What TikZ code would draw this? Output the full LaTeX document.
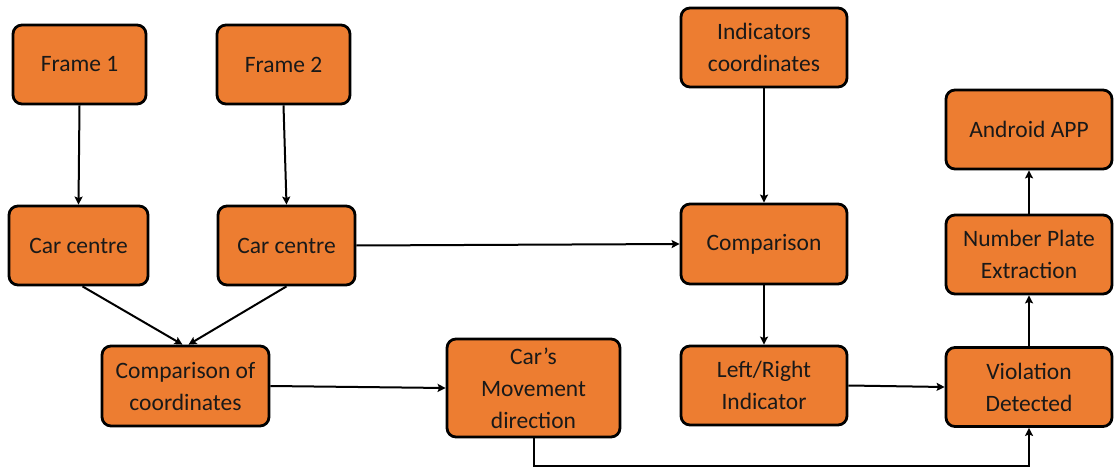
\documentclass[tikz,border=0pt]{standalone}
\usepackage{fontspec}
\setmainfont{Carlito}
\usetikzlibrary{arrows.meta}
\definecolor{boxfill}{HTML}{ED7D31}
\tikzset{
  stepbox/.style={draw=black, line width=2.8pt, fill=boxfill, rounded corners=9pt,
    align=center, inner sep=2pt, font=\fontsize{23.5}{32}\selectfont,
    text=black!90},
  flow/.style={draw=black, line width=2pt,
    -{Stealth[length=8pt,width=8pt,inset=1.5pt]}},
}
\begin{document}
\begin{tikzpicture}[x=1pt, y=-1pt]
  \useasboundingbox (0,0) rectangle (1115,470);
  % upper row
  \node[stepbox, minimum width=133pt, minimum height=79pt] (f1)  at (79.5,64.5)  {Frame 1};
  \node[stepbox, minimum width=133pt, minimum height=79pt] (f2)  at (283.5,64.5) {Frame 2};
  \node[stepbox, minimum width=166pt, minimum height=79pt] (ind) at (764,47.5)   {Indicators\\coordinates};
  \node[stepbox, minimum width=166pt, minimum height=79pt] (app) at (1029,129.5) {Android APP};
  % middle row
  \node[stepbox, minimum width=139pt, minimum height=79pt] (cc1) at (78.5,245.5)  {Car centre};
  \node[stepbox, minimum width=137pt, minimum height=79pt] (cc2) at (286.5,245.5) {Car centre};
  \node[stepbox, minimum width=166pt, minimum height=80pt] (cmp) at (764,244)     {Comparison};
  \node[stepbox, minimum width=166pt, minimum height=79pt] (npe) at (1029,254.5)  {Number Plate\\Extraction};
  % lower row
  \node[stepbox, minimum width=167pt, minimum height=80pt] (coc) at (185.5,386) {Comparison of\\coordinates};
  \node[stepbox, minimum width=173pt, minimum height=98pt] (mov) at (533.5,388) {Car’s\\Movement\\direction};
  \node[stepbox, minimum width=166pt, minimum height=79pt] (lr)  at (764,385.5) {Left/Right\\Indicator};
  \node[stepbox, minimum width=166pt, minimum height=79pt] (vd)  at (1029,387)  {Violation\\Detected};
  % connectors
  \draw[flow] (f1.south) -- (cc1.north);
  \draw[flow] (f2.south) -- (cc2.north);
  \draw[flow] ([xshift=4pt]cc1.south) -- ([xshift=-3pt]coc.north);
  \draw[flow] (cc2.south) -- ([xshift=3pt]coc.north);
  \draw[flow] (cc2.east) -- (cmp.west);
  \draw[flow] (ind.south) -- (cmp.north);
  \draw[flow] (cmp.south) -- (lr.north);
  \draw[flow] (coc.east) -- (mov.west);
  \draw[flow] (lr.east) -- (vd.west);
  \draw[flow] (vd.north) -- (npe.south);
  \draw[flow] (npe.north) -- (app.south);
  \coordinate (bend) at (533.5,466);
  \draw[flow] (mov.south) -- (bend) -| (vd.south);
\end{tikzpicture}
\end{document}
